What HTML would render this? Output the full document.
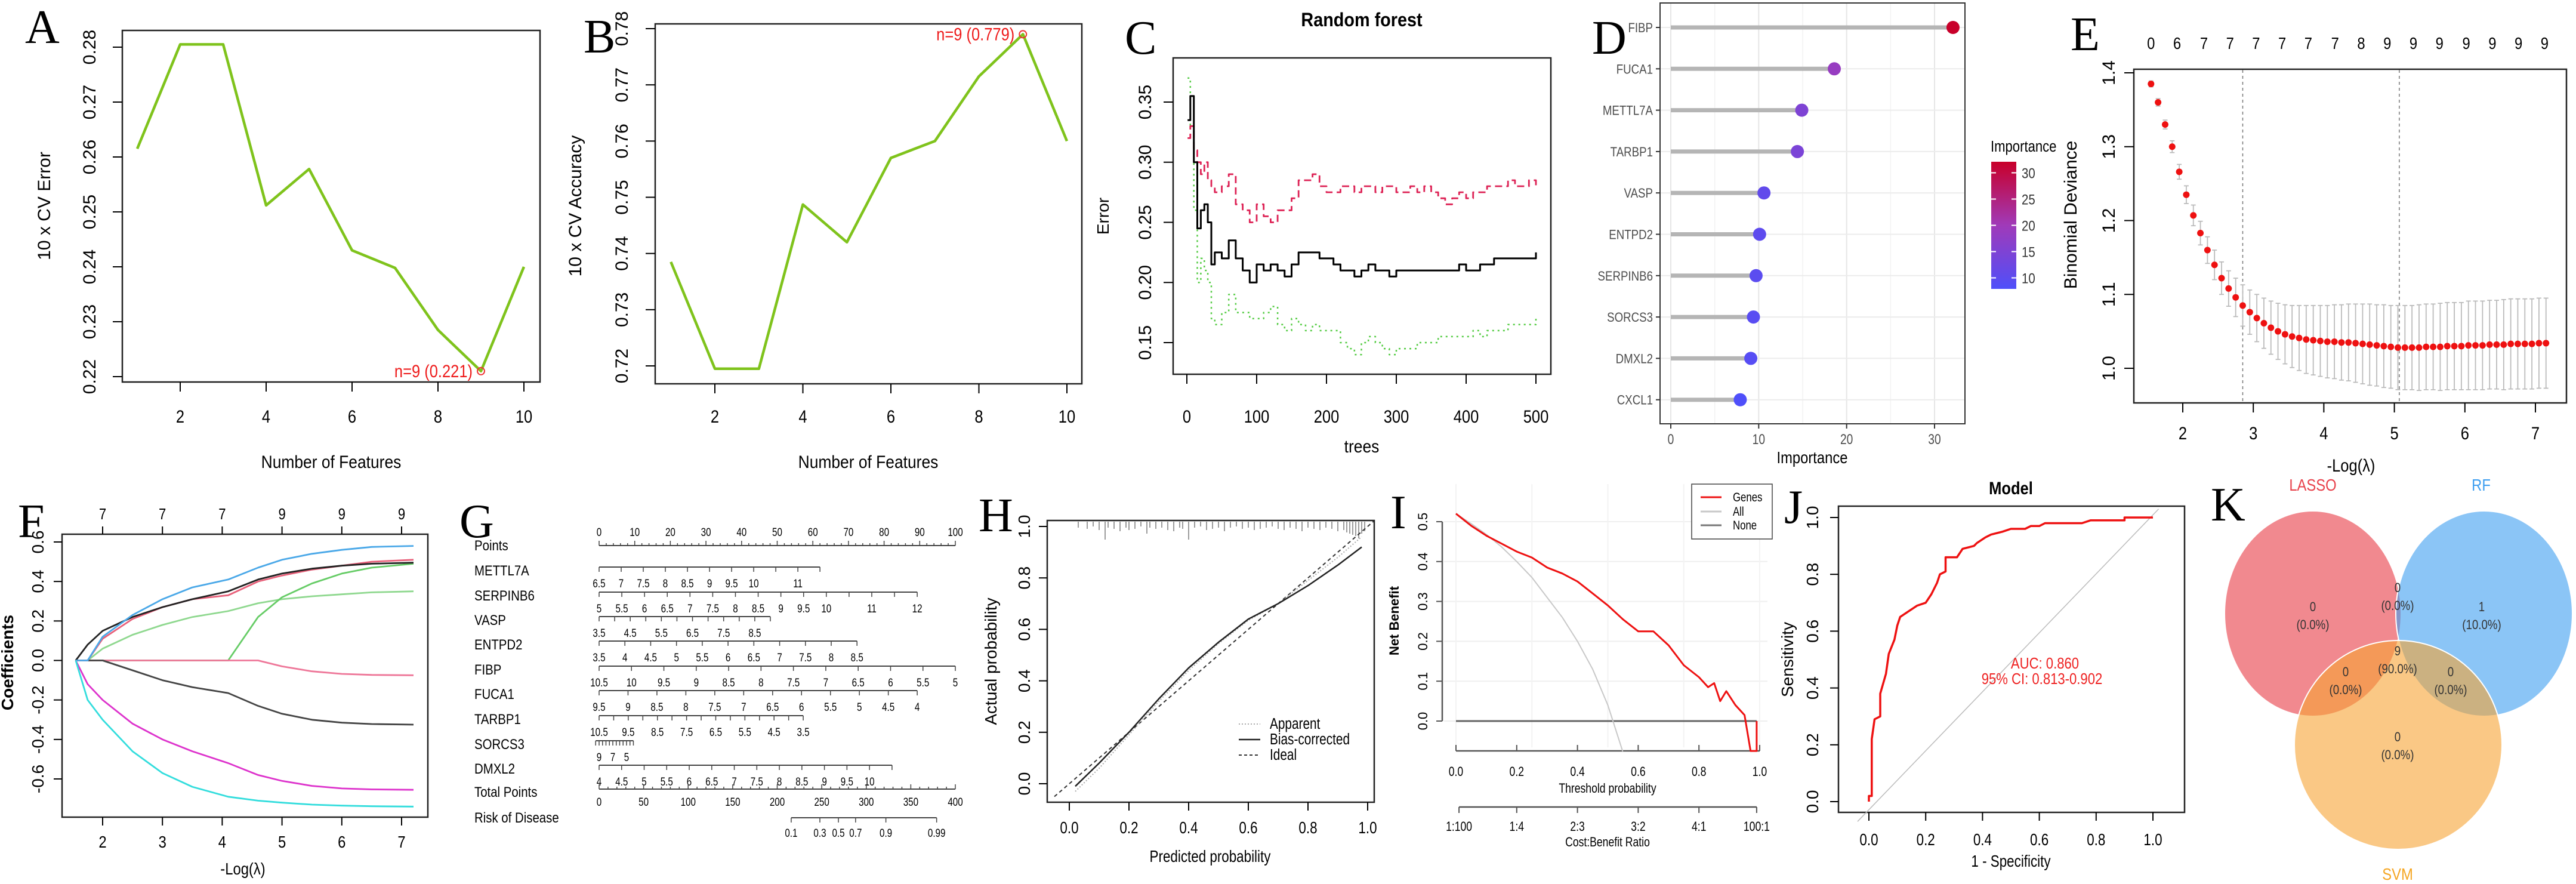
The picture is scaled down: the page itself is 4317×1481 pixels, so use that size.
<!DOCTYPE html>
<html><head><meta charset="utf-8">
<style>
html,body{margin:0;padding:0;background:#fff;width:4317px;height:1481px;overflow:hidden}
svg{display:block}
text{font-family:"Liberation Sans",Arial,sans-serif}
</style></head>
<body>
<svg id="fig" width="4317" height="1481" viewBox="0 0 4317 1481" xmlns="http://www.w3.org/2000/svg"></svg>
<script>
// ---------- DATA ----------
const featN = [1,2,3,4,5,6,7,8,9,10];
const cvError = [0.2615,0.2805,0.2805,0.2512,0.2578,0.2430,0.2398,0.2285,0.2210,0.2400];
const cvAccuracy = [0.7385,0.7195,0.7195,0.7487,0.7420,0.7570,0.7600,0.7715,0.7790,0.7600];
const errTicksA = [0.22,0.23,0.24,0.25,0.26,0.27,0.28];
const accTicksB = [0.72,0.73,0.74,0.75,0.76,0.77,0.78];
const featTicks = [2,4,6,8,10];

const rfTrees = [1,5,10,15,20,25,30,35,40,50,60,70,80,90,100,110,120,130,140,150,160,170,180,190,200,210,220,230,240,250,260,270,280,290,300,310,320,330,340,350,360,370,380,390,400,410,420,430,440,450,460,470,480,490,500];
const rfOOB = [0.335,0.355,0.30,0.245,0.26,0.265,0.25,0.215,0.225,0.22,0.235,0.22,0.21,0.20,0.215,0.21,0.215,0.21,0.205,0.215,0.225,0.225,0.225,0.22,0.22,0.215,0.21,0.21,0.205,0.21,0.215,0.21,0.21,0.205,0.21,0.21,0.21,0.21,0.21,0.21,0.21,0.21,0.21,0.215,0.21,0.21,0.215,0.215,0.22,0.22,0.22,0.22,0.22,0.22,0.225];
const rfClass1 = [0.32,0.33,0.31,0.30,0.29,0.30,0.285,0.28,0.275,0.28,0.29,0.265,0.26,0.25,0.265,0.255,0.25,0.26,0.26,0.27,0.285,0.285,0.29,0.28,0.275,0.275,0.28,0.28,0.275,0.28,0.28,0.275,0.28,0.28,0.275,0.275,0.28,0.275,0.28,0.275,0.27,0.265,0.27,0.275,0.27,0.275,0.275,0.28,0.28,0.28,0.285,0.28,0.28,0.285,0.28];
const rfClass2 = [0.37,0.33,0.26,0.20,0.22,0.21,0.20,0.17,0.165,0.175,0.19,0.175,0.175,0.17,0.17,0.175,0.18,0.165,0.16,0.17,0.165,0.16,0.165,0.16,0.16,0.16,0.15,0.145,0.14,0.15,0.155,0.15,0.145,0.14,0.145,0.145,0.145,0.15,0.15,0.15,0.155,0.155,0.155,0.155,0.155,0.16,0.155,0.16,0.16,0.16,0.165,0.165,0.165,0.165,0.17];
const rfYTicks = [0.15,0.20,0.25,0.30,0.35];
const rfXTicks = [0,100,200,300,400,500];

const genes = ['FIBP','FUCA1','METTL7A','TARBP1','VASP','ENTPD2','SERPINB6','SORCS3','DMXL2','CXCL1'];
const importance = [32.1,18.6,14.9,14.4,10.6,10.1,9.7,9.4,9.1,7.9];
const impTicks = [0,10,20,30];
const impLegendTicks = [10,15,20,25,30];

const cvLogLambda = [1.55,1.65,1.75,1.85,1.95,2.05,2.15,2.25,2.35,2.45,2.55,2.65,2.75,2.85,2.95,3.05,3.15,3.25,3.35,3.45,3.55,3.65,3.75,3.85,3.95,4.05,4.15,4.25,4.35,4.45,4.55,4.65,4.75,4.85,4.95,5.05,5.15,5.25,5.35,5.45,5.55,5.65,5.75,5.85,5.95,6.05,6.15,6.25,6.35,6.45,6.55,6.65,6.75,6.85,6.95,7.05,7.15];
const cvDeviance = [1.385,1.36,1.33,1.30,1.266,1.235,1.207,1.183,1.160,1.140,1.122,1.108,1.096,1.085,1.076,1.068,1.061,1.055,1.050,1.046,1.043,1.041,1.039,1.038,1.037,1.036,1.036,1.035,1.035,1.034,1.033,1.032,1.031,1.030,1.029,1.028,1.028,1.028,1.028,1.029,1.029,1.029,1.030,1.030,1.030,1.031,1.031,1.031,1.032,1.032,1.032,1.033,1.033,1.033,1.033,1.034,1.034];
const cvSE = [0.004,0.005,0.006,0.008,0.010,0.012,0.014,0.016,0.018,0.020,0.022,0.024,0.026,0.028,0.030,0.032,0.034,0.036,0.038,0.040,0.042,0.044,0.046,0.047,0.048,0.049,0.050,0.051,0.052,0.053,0.054,0.055,0.055,0.056,0.056,0.057,0.057,0.057,0.058,0.058,0.058,0.059,0.059,0.059,0.059,0.060,0.060,0.060,0.060,0.060,0.061,0.061,0.061,0.061,0.061,0.061,0.061];
const cvTopPos = [1.55,1.92,2.30,2.67,3.04,3.41,3.78,4.16,4.53,4.90,5.27,5.64,6.02,6.39,6.76,7.13];
const cvTopNum = ['0','6','7','7','7','7','7','7','8','9','9','9','9','9','9','9'];
const lambdaMin = 5.07, lambda1se = 2.85;
const devTicks = [1.0,1.1,1.2,1.3,1.4];
const logLamTicks = [2,3,4,5,6,7];

const pathX = [1.55,1.75,2,2.5,3,3.5,4.1,4.6,5,5.5,6,6.5,7.2];
const coefBlue = [0,0,0.12,0.23,0.31,0.37,0.41,0.47,0.51,0.54,0.56,0.575,0.58];
const coefRed = [0,0,0.11,0.21,0.27,0.31,0.33,0.40,0.43,0.46,0.48,0.50,0.51];
const coefBlack = [0,0.08,0.15,0.22,0.27,0.31,0.35,0.41,0.44,0.465,0.48,0.49,0.495];
const coefLtGreen = [0,0,0.06,0.13,0.18,0.22,0.25,0.29,0.31,0.325,0.335,0.345,0.35];
const coefGreen = [0,0,0,0,0,0,0,0.22,0.32,0.39,0.44,0.47,0.49];
const coefPink = [0,0,0,0,0,0,0,0,-0.03,-0.055,-0.068,-0.073,-0.075];
const coefGray = [0,0,0,-0.05,-0.1,-0.135,-0.165,-0.23,-0.27,-0.3,-0.315,-0.322,-0.325];
const coefMagenta = [0,-0.12,-0.2,-0.32,-0.4,-0.46,-0.52,-0.58,-0.61,-0.635,-0.648,-0.653,-0.655];
const coefCyan = [0,-0.2,-0.3,-0.46,-0.57,-0.64,-0.69,-0.71,-0.72,-0.73,-0.735,-0.738,-0.74];
const pathTopNum = ['7','7','7','9','9','9'];
const coefTicks = [-0.6,-0.4,-0.2,0.0,0.2,0.4,0.6];

const calX = [0.02,0.1,0.2,0.3,0.4,0.5,0.6,0.7,0.8,0.9,0.98];
const calBias = [-0.01,0.08,0.2,0.33,0.45,0.55,0.64,0.70,0.77,0.85,0.92];
const calApparent = [-0.03,0.06,0.19,0.32,0.44,0.545,0.635,0.70,0.79,0.88,0.96];
const calRug = [0.03,0.06,0.08,0.1,0.12,0.13,0.15,0.17,0.19,0.2,0.22,0.24,0.26,0.27,0.29,0.31,0.33,0.35,0.37,0.38,0.4,0.42,0.44,0.46,0.48,0.5,0.52,0.54,0.56,0.58,0.6,0.62,0.64,0.66,0.68,0.7,0.72,0.74,0.76,0.78,0.8,0.82,0.84,0.86,0.88,0.9,0.92,0.93,0.94,0.95,0.96,0.97,0.98,0.99];
const calRugLen = [10,12,8,14,30,10,12,16,10,14,12,8,20,10,12,10,14,16,10,12,30,10,8,14,12,10,16,10,8,12,10,14,12,10,8,12,14,10,12,16,10,12,14,10,12,16,14,18,20,22,24,28,20,16];
const probTicks = [0,0.2,0.4,0.6,0.8,1.0];

const dcaThr = [0,0.05,0.1,0.15,0.2,0.25,0.3,0.35,0.4,0.45,0.5,0.55,0.6,0.65,0.7,0.75,0.8,0.83,0.85,0.87,0.89,0.92,0.95,0.97,0.99];
const dcaGenes = [0.52,0.49,0.465,0.445,0.425,0.41,0.385,0.37,0.35,0.32,0.29,0.255,0.225,0.225,0.19,0.14,0.11,0.085,0.095,0.05,0.075,0.04,0.015,-0.075,-0.075];
const dcaAllThr = [0,0.05,0.1,0.15,0.2,0.25,0.3,0.35,0.4,0.45,0.5,0.549];
const dcaAll = [0.52,0.495,0.468,0.437,0.40,0.36,0.31,0.26,0.20,0.13,0.04,-0.076];
const dcaYTicks = [0,0.1,0.2,0.3,0.4,0.5];
const dcaXTicks = [0,0.2,0.4,0.6,0.8,1.0];
const cbPos = [0.01,0.2,0.4,0.6,0.8,0.99];
const cbLab = ['1:100','1:4','2:3','3:2','4:1','100:1'];

const rocFPR = [0,0,0.01,0.01,0.02,0.04,0.04,0.06,0.07,0.09,0.1,0.11,0.14,0.17,0.2,0.22,0.24,0.25,0.27,0.27,0.31,0.33,0.37,0.38,0.41,0.43,0.47,0.5,0.55,0.57,0.6,0.62,0.75,0.78,0.9,0.9,1.0];
const rocTPR = [0,0.02,0.02,0.22,0.29,0.30,0.38,0.45,0.52,0.57,0.62,0.65,0.67,0.69,0.70,0.73,0.77,0.80,0.81,0.86,0.86,0.89,0.90,0.91,0.93,0.94,0.95,0.96,0.96,0.97,0.97,0.98,0.98,0.99,0.99,1.0,1.0];
const rocTicks = [0,0.2,0.4,0.6,0.8,1.0];

// ---------- HELPERS ----------
const NS='http://www.w3.org/2000/svg';
const svg=document.getElementById('fig');
function el(tag,a,name,par){
  const e=document.createElementNS(NS,tag);
  for(const k in a) e.setAttribute(k,a[k]);
  
  
  (par||svg).appendChild(e);
  return e;
}
function G(name){return el('g',{},name);}
function T(x,y,s,sz,name,o){
  o=o||{};
  const a={x:x,y:y,'font-size':sz,'text-anchor':o.a||'middle',fill:o.f||'#000'};
  if(o.w) a['font-weight']=o.w;
  if(o.r!==undefined) a.transform='rotate('+o.r+' '+x+' '+y+')';
  if(o.fam) a.style='font-family:'+o.fam;
  if(o.sx) a.transform='translate('+x+' '+y+') scale('+o.sx+' 1) translate('+(-x)+' '+(-y)+')';
  const e=el('text',a,name,o.p); e.textContent=s; return e;
}
function L(x1,y1,x2,y2,name,o){
  o=o||{};
  const a={x1:x1,y1:y1,x2:x2,y2:y2,stroke:o.s||'#000','stroke-width':o.w||2};
  if(o.d) a['stroke-dasharray']=o.d;
  return el('line',a,name,o.p);
}
function PL(pts,name,o){
  o=o||{};
  const a={points:pts.map(p=>p[0].toFixed(1)+','+p[1].toFixed(1)).join(' '),fill:'none',stroke:o.s||'#000','stroke-width':o.w||2,'stroke-linejoin':'round'};
  if(o.d) a['stroke-dasharray']=o.d;
  return el('polyline',a,name,o.p);
}
function lin(d0,d1,r0,r1){return v=>r0+(v-d0)*(r1-r0)/(d1-d0);}
function box(x0,y0,x1,y1,name,p,c){return el('rect',{x:x0,y:y0,width:x1-x0,height:y1-y0,fill:'none',stroke:c||'#222','stroke-width':2.5},name,p);}
function stepPts(xs,ys,sx,sy){const n=Math.min(xs.length,ys.length);const out=[];for(let i=0;i<n;i++){if(i>0)out.push([sx(xs[i]),sy(ys[i-1])]);out.push([sx(xs[i]),sy(ys[i])]);}return out;}
function pts(xs,ys,sx,sy){const n=Math.min(xs.length,ys.length);const out=[];for(let i=0;i<n;i++)out.push([sx(xs[i]),sy(ys[i])]);return out;}
function letter(ch,x,y){T(x,y,ch,80,'panel-label-'+ch.toLowerCase(),{fam:'"Liberation Serif",serif',a:'start'});}

// ---------- PANEL A ----------
(function(){
  const p=G('panel-a-cv-error');
  letter('A',42,72);
  const sx=lin(2,10,302,878), sy=lin(0.22,0.28,631,79);
  box(205,51,905,640,'plot-frame-a',p);
  featTicks.forEach(v=>{L(sx(v),640,sx(v),656,'x-tick-a',{p:p,w:2});T(sx(v),708,String(v),30,'x-tick-label-a',{p:p,sx:0.85});});
  errTicksA.forEach(v=>{L(205,sy(v),189,sy(v),'y-tick-a',{p:p});T(160,sy(v),v.toFixed(2),30,'y-tick-label-a',{p:p,r:-90});});
  T(84,345,'10 x CV Error',30,'y-axis-title-a',{p:p,r:-90});
  T(555,784,'Number of Features',30,'x-axis-title-a',{p:p,sx:0.88});
  PL(pts(featN,cvError,sx,sy),'cv-error-line',{p:p,s:'#7fc31c',w:4.5});
  const bi=cvError.indexOf(Math.min(...cvError));
  el('circle',{cx:sx(featN[bi]),cy:sy(cvError[bi]),r:6,fill:'none',stroke:'#e33','stroke-width':2},'best-point-a',p);
  T(sx(featN[bi])-14,sy(cvError[bi])+10,'n='+featN[bi]+' ('+cvError[bi].toFixed(3)+')',30,'best-label-a',{p:p,a:'end',f:'#ee1c1c',sx:0.85});
})();

// ---------- PANEL B ----------
(function(){
  const p=G('panel-b-cv-accuracy');
  letter('B',978,88);
  const sx=lin(2,10,1198,1788), sy=lin(0.72,0.78,613,48);
  box(1098,40,1813,643,'plot-frame-b',p);
  featTicks.forEach(v=>{L(sx(v),643,sx(v),659,'x-tick-b',{p:p});T(sx(v),708,String(v),30,'x-tick-label-b',{p:p,sx:0.85});});
  accTicksB.forEach(v=>{L(1098,sy(v),1082,sy(v),'y-tick-b',{p:p});T(1052,sy(v),v.toFixed(2),30,'y-tick-label-b',{p:p,r:-90});});
  T(974,345,'10 x CV Accuracy',30,'y-axis-title-b',{p:p,r:-90});
  T(1455,784,'Number of Features',30,'x-axis-title-b',{p:p,sx:0.88});
  PL(pts(featN,cvAccuracy,sx,sy),'cv-accuracy-line',{p:p,s:'#7fc31c',w:4.5});
  const bi=cvAccuracy.indexOf(Math.max(...cvAccuracy));
  el('circle',{cx:sx(featN[bi]),cy:sy(cvAccuracy[bi]),r:6,fill:'none',stroke:'#e33','stroke-width':2},'best-point-b',p);
  T(sx(featN[bi])-14,sy(cvAccuracy[bi])+10,'n='+featN[bi]+' ('+cvAccuracy[bi].toFixed(3)+')',30,'best-label-b',{p:p,a:'end',f:'#ee1c1c',sx:0.85});
})();

// ---------- PANEL C ----------
(function(){
  const p=G('panel-c-random-forest');
  letter('C',1885,90);
  const sx=lin(0,500,1989,2574), sy=lin(0.15,0.35,574,171);
  T(2282,44,'Random forest',32,'chart-title-c',{p:p,w:'bold',sx:0.9});
  box(1966,97,2599,627,'plot-frame-c',p);
  rfXTicks.forEach(v=>{L(sx(v),627,sx(v),643,'x-tick-c',{p:p});T(sx(v),708,String(v),30,'x-tick-label-c',{p:p,sx:0.85});});
  rfYTicks.forEach(v=>{L(1966,sy(v),1950,sy(v),'y-tick-c',{p:p});T(1929,sy(v),v.toFixed(2),30,'y-tick-label-c',{p:p,r:-90});});
  T(1858,362,'Error',28,'y-axis-title-c',{p:p,r:-90});
  T(2282,758,'trees',30,'x-axis-title-c',{p:p,sx:0.88});
  PL(stepPts(rfTrees,rfClass2,sx,sy),'class2-error-line',{p:p,s:'#55cc44',w:2.5,d:'3 6'});
  PL(stepPts(rfTrees,rfClass1,sx,sy),'class1-error-line',{p:p,s:'#dd2255',w:2.8,d:'12 7'});
  PL(stepPts(rfTrees,rfOOB,sx,sy),'oob-error-line',{p:p,s:'#000',w:3});
})();

// ---------- PANEL D ----------
(function(){
  const p=G('panel-d-importance');
  letter('D',2668,90);
  const sx=lin(0,30,2800,3242);
  const ry=i=>46+i*69.3;
  el('rect',{x:2782,y:5,width:511,height:705,fill:'#fff',stroke:'#333','stroke-width':2},'plot-frame-d',p);
  [5,15,25].forEach(v=>L(sx(v),6,sx(v),709,'minor-grid-d',{p:p,s:'#f2f2f2',w:1.5}));
  impTicks.forEach(v=>{L(sx(v),6,sx(v),709,'major-grid-d',{p:p,s:'#e6e6e6',w:2});L(sx(v),710,sx(v),718,'x-tick-d',{p:p,s:'#333'});T(sx(v),744,String(v),24,'x-tick-label-d',{p:p,f:'#4d4d4d',sx:0.8});});
  T(3037,776,'Importance',28,'x-axis-title-d',{p:p,sx:0.85});
  const col=v=>{const t=Math.max(0,Math.min(1,(v-7.9)/(32.1-7.9)));const a=[79,79,250],m=[160,58,185],b=[200,0,42];let c;if(t<0.5){const u=t/0.5;c=a.map((x,k)=>Math.round(x+(m[k]-x)*u));}else{const u=(t-0.5)/0.5;c=m.map((x,k)=>Math.round(x+(b[k]-x)*u));}return 'rgb('+c.join(',')+')';};
  genes.forEach((g,i)=>{
    const y=ry(i);
    L(2783,y,3292,y,'row-grid-d',{p:p,s:'#ececec',w:2});
    L(2775,y,2782,y,'y-tick-d',{p:p,s:'#333'});
    T(2770,y+8,g,22,'gene-label',{p:p,a:'end',f:'#4d4d4d',sx:0.85});
    L(sx(0),y,sx(importance[i]),y,'lollipop-stem',{p:p,s:'#b5b5b5',w:7});
    el('circle',{cx:sx(importance[i]),cy:y,r:11,fill:col(importance[i])},'lollipop-point',p);
  });
  const defs=el('defs',{},'defs-d',p);
  const lg=el('linearGradient',{id:'impg',x1:0,y1:1,x2:0,y2:0},'importance-gradient',defs);
  el('stop',{offset:'0','stop-color':'rgb(79,79,250)'},'grad-stop',lg);
  el('stop',{offset:'0.5','stop-color':'rgb(160,58,185)'},'grad-stop',lg);
  el('stop',{offset:'1','stop-color':'rgb(200,0,42)'},'grad-stop',lg);
  T(3336,254,'Importance',26,'legend-title-d',{p:p,a:'start',sx:0.85});
  el('rect',{x:3337,y:271,width:42,height:213,fill:'url(#impg)'},'legend-colorbar',p);
  const ly=lin(7.9,32.1,484,271);
  impLegendTicks.forEach(v=>{L(3337,ly(v),3345,ly(v),'legend-tick',{p:p,s:'#fff'});L(3371,ly(v),3379,ly(v),'legend-tick',{p:p,s:'#fff'});T(3388,ly(v)+9,String(v),24,'legend-label',{p:p,a:'start',f:'#333',sx:0.85});});
})();

// ---------- PANEL E ----------
(function(){
  const p=G('panel-e-lasso-cv');
  letter('E',3470,84);
  const sx=lin(2,7,3658,4249), sy=lin(1.0,1.4,617,122);
  box(3576,116,4301,675,'plot-frame-e',p);
  cvTopPos.forEach((v,i)=>T(sx(v),82,cvTopNum[i],28,'top-count-label-e',{p:p,sx:0.85}));
  logLamTicks.forEach(v=>{L(sx(v),675,sx(v),691,'x-tick-e',{p:p});T(sx(v),736,String(v),30,'x-tick-label-e',{p:p,sx:0.85});});
  devTicks.forEach(v=>{L(3576,sy(v),3560,sy(v),'y-tick-e',{p:p});T(3544,sy(v),v.toFixed(1),30,'y-tick-label-e',{p:p,r:-90});});
  T(3480,360,'Binomial Deviance',30,'y-axis-title-e',{p:p,r:-90});
  T(3940,790,'-Log(\u03bb)',30,'x-axis-title-e',{p:p,sx:0.85});
  L(sx(lambda1se),117,sx(lambda1se),674,'lambda-1se-line',{p:p,s:'#777',w:1.5,d:'5 5'});
  L(sx(lambdaMin),117,sx(lambdaMin),674,'lambda-min-line',{p:p,s:'#777',w:1.5,d:'5 5'});
  const n=Math.min(cvLogLambda.length,cvDeviance.length,cvSE.length);
  for(let i=0;i<n;i++){
    const x=sx(cvLogLambda[i]),yu=sy(cvDeviance[i]+cvSE[i]),yl=sy(cvDeviance[i]-cvSE[i]);
    L(x,yu,x,yl,'error-bar-e',{p:p,s:'#bbb',w:1.8});
    L(x-4,yu,x+4,yu,'error-cap-e',{p:p,s:'#bbb',w:1.8});
    L(x-4,yl,x+4,yl,'error-cap-e',{p:p,s:'#bbb',w:1.8});
  }
  for(let i=0;i<n;i++){el('circle',{cx:sx(cvLogLambda[i]),cy:sy(cvDeviance[i]),r:5.5,fill:'#ee1111'},'deviance-point',p);}
})();

// ---------- PANEL F ----------
(function(){
  const p=G('panel-f-lasso-path');
  letter('F',30,900);
  const sx=lin(2,7,172,673), sy=lin(-0.6,0.6,1305,908);
  box(104,895,717,1369,'plot-frame-f',p);
  logLamTicks.forEach((v,i)=>{L(sx(v),895,sx(v),882,'top-tick-f',{p:p});T(sx(v),870,pathTopNum[i],26,'top-count-label-f',{p:p,sx:0.85});L(sx(v),1369,sx(v),1383,'x-tick-f',{p:p});T(sx(v),1420,String(v),28,'x-tick-label-f',{p:p,sx:0.85});});
  coefTicks.forEach(v=>{L(104,sy(v),90,sy(v),'y-tick-f',{p:p});T(73,sy(v),v.toFixed(1),28,'y-tick-label-f',{p:p,r:-90});});
  T(22,1110,'Coefficients',28,'y-axis-title-f',{p:p,r:-90,w:'bold'});
  T(407,1465,'-Log(\u03bb)',28,'x-axis-title-f',{p:p,sx:0.85});
  const series=[[coefLtGreen,'#8fd88f'],[coefGreen,'#66cc66'],[coefPink,'#ee7799'],[coefGray,'#444'],[coefRed,'#e8607a'],[coefBlack,'#222'],[coefBlue,'#4aa8e8'],[coefMagenta,'#dd33cc'],[coefCyan,'#33dddd']];
  series.forEach(s=>PL(pts(pathX,s[0],sx,sy),'coefficient-path',{p:p,s:s[1],w:2.8}));
})();

// ---------- PANEL G (nomogram) ----------
(function(){
  const p=G('panel-g-nomogram');
  letter('G',770,900);
  const px=v=>1004+5.97*v;
  const fnt='"Liberation Sans Narrow","Liberation Sans",sans-serif';
  const rows=[
    {n:'METTL7A',y:956,labs:[6.5,7,7.5,8,8.5,9,9.5,10,11],v0:6.5,v1:11,p1:55.8,ticks:[6.5,7,7.5,8,8.5,9,9.5,10,10.5,11,11.5]},
    {n:'SERPINB6',y:998,labs:[5,5.5,6,6.5,7,7.5,8,8.5,9,9.5,10,11,12],v0:5,v1:12,p1:89.3,ticks:[5,5.5,6,6.5,7,7.5,8,8.5,9,9.5,10,10.5,11,11.5,12]},
    {n:'VASP',y:1039,labs:[3.5,4.5,5.5,6.5,7.5,8.5],v0:3.5,v1:8.5,p1:43.7,ticks:[3.5,4,4.5,5,5.5,6,6.5,7,7.5,8,8.5,9]},
    {n:'ENTPD2',y:1080,labs:[3.5,4,4.5,5,5.5,6,6.5,7,7.5,8,8.5],v0:3.5,v1:8.5,p1:72.4,ticks:[3.5,4,4.5,5,5.5,6,6.5,7,7.5,8,8.5]},
    {n:'FIBP',y:1122,labs:[10.5,10,9.5,9,8.5,8,7.5,7,6.5,6,5.5,5],v0:10.5,v1:5,p1:100,ticks:[10.5,10,9.5,9,8.5,8,7.5,7,6.5,6,5.5,5]},
    {n:'FUCA1',y:1163,labs:[9.5,9,8.5,8,7.5,7,6.5,6,5.5,5,4.5,4],v0:9.5,v1:4,p1:89.3,ticks:[9.5,9,8.5,8,7.5,7,6.5,6,5.5,5,4.5,4]},
    {n:'TARBP1',y:1205,labs:[10.5,9.5,8.5,7.5,6.5,5.5,4.5,3.5],v0:10.5,v1:3.5,p1:57.3,ticks:[10.5,10,9.5,9,8.5,8,7.5,7,6.5,6,5.5,5,4.5,4,3.5]},
    {n:'SORCS3',y:1247,labs:[9,7,5],v0:9,v1:5,p1:7.7,ticks:[9.5,9,8.5,8,7.5,7,6.5,6,5.5,5,4.5,4]},
    {n:'DMXL2',y:1288,labs:[4,4.5,5,5.5,6,6.5,7,7.5,8,8.5,9,9.5,10],v0:4,v1:10,p1:75.9,ticks:[4,4.5,5,5.5,6,6.5,7,7.5,8,8.5,9,9.5,10,10.5]}
  ];
  T(795,922,'Points',24,'row-label-points',{p:p,a:'start',fam:fnt,sx:0.85});
  L(px(0),914,px(100),914,'points-axis',{p:p,s:'#444',w:2});
  for(let v=0;v<=100;v+=2){L(px(v),914,px(v),v%10===0?906:910,'points-tick',{p:p,s:'#444',w:1.5});}
  for(let v=0;v<=100;v+=10){T(px(v),898,String(v),19,'points-tick-label',{p:p,fam:fnt,sx:0.8});}
  rows.forEach(r=>{
    T(795,r.y+8,r.n,24,'row-label',{p:p,a:'start',fam:fnt,sx:0.85});
    const f=v=>px((v-r.v0)/(r.v1-r.v0)*r.p1);
    const xs=r.ticks.map(f);
    L(Math.min(...xs),r.y-6,Math.max(...xs),r.y-6,'variable-axis',{p:p,s:'#444',w:2});
    r.ticks.forEach(v=>L(f(v),r.y-6,f(v),r.y+2,'variable-tick',{p:p,s:'#444',w:1.5}));
    r.labs.forEach(v=>T(f(v),r.y+28,String(v),19,'variable-tick-label',{p:p,fam:fnt,sx:0.8}));
  });
  const tp=v=>1004+(1601-1004)*v/400;
  T(795,1335,'Total Points',24,'row-label-total',{p:p,a:'start',fam:fnt,sx:0.85});
  L(tp(0),1322,tp(400),1322,'total-axis',{p:p,s:'#444',w:2});
  for(let v=0;v<=400;v+=10){L(tp(v),1322,tp(v),v%50===0?1314:1318,'total-tick',{p:p,s:'#444',w:1.5});}
  for(let v=0;v<=400;v+=50){T(tp(v),1350,String(v),19,'total-tick-label',{p:p,fam:fnt,sx:0.8});}
  const riskVal=[0.1,0.3,0.5,0.7,0.9,0.99];
  const riskTotal=[215.7,247.9,268.7,288,322,379];
  T(795,1378,'Risk of Disease',24,'row-label-risk',{p:p,a:'start',fam:fnt,sx:0.85});
  L(tp(riskTotal[0]),1370,tp(riskTotal[riskTotal.length-1]),1370,'risk-axis',{p:p,s:'#444',w:2});
  riskVal.forEach((v,i)=>{L(tp(riskTotal[i]),1370,tp(riskTotal[i]),1378,'risk-tick',{p:p,s:'#444',w:1.5});T(tp(riskTotal[i]),1402,String(v),19,'risk-tick-label',{p:p,fam:fnt,sx:0.8});});
})();

// ---------- PANEL H ----------
(function(){
  const p=G('panel-h-calibration');
  letter('H',1640,890);
  const sx=lin(0,1,1792,2292), sy=lin(0,1,1313,882);
  box(1755,872,2303,1344,'plot-frame-h',p);
  probTicks.forEach(v=>{L(sx(v),1344,sx(v),1358,'x-tick-h',{p:p});T(sx(v),1396,v.toFixed(1),28,'x-tick-label-h',{p:p,sx:0.8});L(1755,sy(v),1741,sy(v),'y-tick-h',{p:p});T(1726,sy(v),v.toFixed(1),28,'y-tick-label-h',{p:p,r:-90});});
  T(1670,1108,'Actual probability',28,'y-axis-title-h',{p:p,r:-90});
  T(2028,1444,'Predicted probability',28,'x-axis-title-h',{p:p,sx:0.8});
  const n=Math.min(calRug.length,calRugLen.length);
  for(let i=0;i<n;i++){L(sx(calRug[i]),sy(1)-8,sx(calRug[i]),sy(1)-8+calRugLen[i],'rug-tick',{p:p,s:'#666',w:1.3});}
  L(sx(-0.05),sy(-0.05),sx(1.02),sy(1.02),'ideal-line',{p:p,s:'#333',w:2,d:'6 5'});
  PL(pts(calX,calApparent,sx,sy),'apparent-line',{p:p,s:'#aaa',w:2,d:'2 3'});
  PL(pts(calX,calBias,sx,sy),'bias-corrected-line',{p:p,s:'#222',w:2.5});
  L(2076,1213,2112,1213,'legend-apparent-swatch',{p:p,s:'#aaa',w:2,d:'2 3'});
  L(2076,1239,2112,1239,'legend-bias-swatch',{p:p,s:'#222',w:2.5});
  L(2076,1265,2112,1265,'legend-ideal-swatch',{p:p,s:'#333',w:2,d:'5 4'});
  T(2128,1221,'Apparent',26,'legend-apparent',{p:p,a:'start',sx:0.8});
  T(2128,1247,'Bias-corrected',26,'legend-bias',{p:p,a:'start',sx:0.8});
  T(2128,1273,'Ideal',26,'legend-ideal',{p:p,a:'start',sx:0.8});
})();

// ---------- PANEL I ----------
(function(){
  const p=G('panel-i-dca');
  letter('I',2330,885);
  const sx=lin(0,1,2440,2949), sy=lin(0,0.5,1208,874);
  [0,0.1,0.2,0.3,0.4,0.5].forEach(v=>L(2420,sy(v),2962,sy(v),'grid-h-i',{p:p,s:'#efefef',w:2}));
  [0,0.25,0.5,0.75,1].forEach(v=>L(sx(v),811,sx(v),1252,'grid-v-i',{p:p,s:'#f3f3f3',w:2}));
  L(2417,sy(0),2417,sy(0.5),'y-axis-i',{p:p,s:'#555',w:2.5});
  dcaYTicks.forEach(v=>{L(2417,sy(v),2407,sy(v),'y-tick-i',{p:p,s:'#555'});T(2392,sy(v),v.toFixed(1),22,'y-tick-label-i',{p:p,r:-90});});
  T(2344,1040,'Net Benefit',22,'y-axis-title-i',{p:p,r:-90,w:'bold'});
  L(sx(0),1258,sx(1),1258,'x-axis-i',{p:p,s:'#555',w:2.5});
  dcaXTicks.forEach(v=>{L(sx(v),1258,sx(v),1248,'x-tick-i',{p:p,s:'#555'});T(sx(v),1300,v.toFixed(1),22,'x-tick-label-i',{p:p,sx:0.8});});
  T(2694,1328,'Threshold probability',22,'x-axis-title-i',{p:p,sx:0.8});
  L(sx(cbPos[0]),1352,sx(cbPos[cbPos.length-1]),1352,'cb-axis-i',{p:p,s:'#555',w:2.5});
  cbPos.forEach((v,i)=>{L(sx(v),1352,sx(v),1362,'cb-tick-i',{p:p,s:'#555'});T(sx(v),1392,cbLab[i],22,'cb-tick-label-i',{p:p,sx:0.8});});
  T(2694,1418,'Cost:Benefit Ratio',22,'cb-axis-title-i',{p:p,sx:0.8});
  L(sx(0),sy(0),sx(0.99),sy(0),'none-line',{p:p,s:'#666',w:3});
  PL(pts(dcaAllThr,dcaAll,sx,sy),'all-line',{p:p,s:'#c8c8c8',w:2});
  const gp=pts(dcaThr,dcaGenes,sx,sy); gp.push([sx(0.99),sy(0)]);
  PL(gp,'genes-line',{p:p,s:'#ee1111',w:3});
  el('rect',{x:2835,y:811,width:135,height:92,fill:'#fff',stroke:'#444','stroke-width':1.5},'legend-box-i',p);
  L(2850,833,2885,833,'legend-genes-swatch',{p:p,s:'#ee1111',w:3});
  L(2850,857,2885,857,'legend-all-swatch',{p:p,s:'#c8c8c8',w:3});
  L(2850,880,2885,880,'legend-none-swatch',{p:p,s:'#777',w:3});
  T(2904,840,'Genes',21,'legend-genes',{p:p,a:'start',sx:0.8});
  T(2904,864,'All',21,'legend-all',{p:p,a:'start',sx:0.8});
  T(2904,887,'None',21,'legend-none',{p:p,a:'start',sx:0.8});
})();

// ---------- PANEL J ----------
(function(){
  const p=G('panel-j-roc');
  letter('J',2990,876);
  const sx=lin(0,1,3132,3608), sy=lin(0,1,1343,867);
  T(3370,828,'Model',30,'chart-title-j',{p:p,w:'bold',sx:0.85});
  box(3081,848,3661,1361,'plot-frame-j',p);
  rocTicks.forEach(v=>{L(sx(v),1361,sx(v),1375,'x-tick-j',{p:p});T(sx(v),1416,v.toFixed(1),28,'x-tick-label-j',{p:p,sx:0.8});L(3081,sy(v),3067,sy(v),'y-tick-j',{p:p});T(3047,sy(v),v.toFixed(1),28,'y-tick-label-j',{p:p,r:-90});});
  T(3005,1105,'Sensitivity',28,'y-axis-title-j',{p:p,r:-90});
  T(3370,1452,'1 - Specificity',28,'x-axis-title-j',{p:p,sx:0.8});
  L(sx(-0.04),sy(-0.07),sx(1.02),sy(1.03),'reference-diagonal',{p:p,s:'#bbb',w:1.5});
  PL(pts(rocFPR,rocTPR,sx,sy),'roc-curve',{p:p,s:'#ee1111',w:3.5});
  T(3427,1120,'AUC: 0.860',26,'auc-label',{p:p,f:'#ee2222',sx:0.85});
  T(3422,1146,'95% CI: 0.813-0.902',26,'ci-label',{p:p,f:'#ee2222',sx:0.85});
})();

// ---------- PANEL K ----------
(function(){
  const p=G('panel-k-venn');
  letter('K',3705,872);
  el('ellipse',{cx:3876,cy:1028,rx:148,ry:172,fill:'#e8414b','fill-opacity':0.62,stroke:'#fff','stroke-width':2},'venn-lasso',p);
  el('ellipse',{cx:4163,cy:1028,rx:148,ry:172,fill:'#3d9ef0','fill-opacity':0.6,stroke:'#fff','stroke-width':2},'venn-rf',p);
  el('ellipse',{cx:4019,cy:1248,rx:174,ry:175,fill:'#f7a434','fill-opacity':0.6,stroke:'#fff','stroke-width':2},'venn-svm',p);
  T(3876,822,'LASSO',28,'set-label-lasso',{p:p,f:'#e8414b',sx:0.85});
  T(4158,822,'RF',28,'set-label-rf',{p:p,f:'#3d9ef0',sx:0.85});
  T(4018,1474,'SVM',28,'set-label-svm',{p:p,f:'#f5a623',sx:0.85});
  const cells=[[3876,1024,'0','(0.0%)'],[4018,992,'0','(0.0%)'],[4159,1024,'1','(10.0%)'],[4018,1098,'9','(90.0%)'],[3931,1133,'0','(0.0%)'],[4107,1133,'0','(0.0%)'],[4018,1242,'0','(0.0%)']];
  cells.forEach(c=>{T(c[0],c[1],c[2],22,'venn-count',{p:p,f:'#333',sx:0.85});T(c[0],c[1]+30,c[3],22,'venn-percent',{p:p,f:'#333',sx:0.85});});
})();
</script>
</body></html>
